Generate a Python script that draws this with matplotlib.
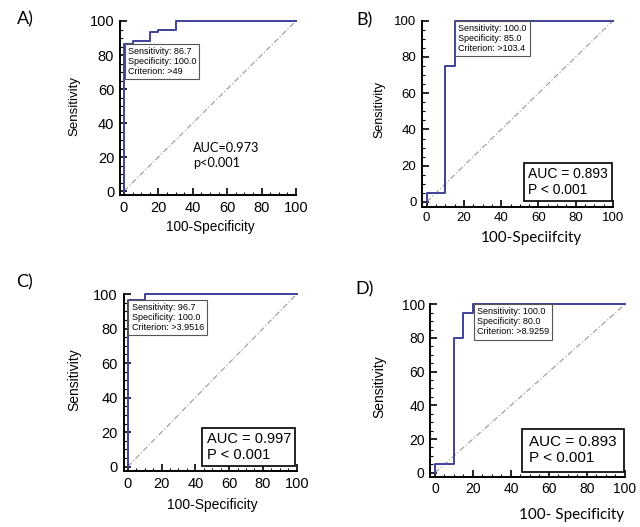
import matplotlib
matplotlib.use("Agg")
import matplotlib.pyplot as plt
from matplotlib.ticker import MultipleLocator

plt.rcParams['font.family'] = ['Liberation Sans', 'DejaVu Sans']

W, H = 640, 527

# ROC curves (100-specificity, sensitivity)
fpr_a = [0, 0, 5, 5, 15, 15, 20, 20, 30, 30, 100]
tpr_a = [0, 86.7, 86.7, 88, 88, 93.3, 93.3, 94.7, 94.7, 100, 100]
fpr_b = [0, 0, 10, 10, 15, 15, 100]
tpr_b = [0, 5, 5, 75, 75, 100, 100]
fpr_c = [0, 0, 10, 10, 100]
tpr_c = [0, 96.7, 96.7, 100, 100]
fpr_d = [0, 0, 10, 10, 15, 15, 20, 20, 100]
tpr_d = [0, 5, 5, 80, 80, 95, 95, 100, 100]

# optimal cut-off point and its labels
cut_a = (0, 86.7)
cut_b = (15, 100)
cut_c = (0, 96.7)
cut_d = (20, 100)
info_a = ["Sensitivity: 86.7", "Specificity: 100.0", "Criterion: >49"]
info_b = ["Sensitivity: 100.0", "Specificity: 85.0", "Criterion: >103.4"]
info_c = ["Sensitivity: 96.7", "Specificity: 100.0", "Criterion: >3.9516"]
info_d = ["Sensitivity: 100.0", "Specificity: 80.0", "Criterion: >8.9259"]

auc_a = "AUC=0.973\np<0.001"
auc_b = "AUC = 0.893\nP < 0.001"
auc_c = "AUC = 0.997\nP < 0.001"
auc_d = "AUC = 0.893\nP < 0.001"

xlabels = ["100-Specificity", "100-Speciifcity", "100-Specificity", "100- Specificity"]

line_col = '#40409a'
calibri = ['Lato', 'DejaVu Sans']

fig = plt.figure(figsize=(6.4, 5.27), dpi=100)


def px(x, y):
    return x / W, 1 - y / H


def make_axes(left, top, right, bottom, tick_fs):
    ax = fig.add_axes([left / W, 1 - bottom / H, (right - left) / W, (bottom - top) / H])
    ax.set_xlim(-2.5, 100)
    ax.set_ylim(-2.5, 100)
    for s in ['top', 'right']:
        ax.spines[s].set_visible(False)
    for s in ['left', 'bottom']:
        ax.spines[s].set_linewidth(1.4)
    ax.xaxis.set_major_locator(MultipleLocator(20))
    ax.yaxis.set_major_locator(MultipleLocator(20))
    ax.xaxis.set_minor_locator(MultipleLocator(5))
    ax.yaxis.set_minor_locator(MultipleLocator(5))
    ax.tick_params(which='major', direction='in', length=5, width=1.2, labelsize=tick_fs, pad=4)
    ax.tick_params(which='minor', direction='in', length=2.5, width=0.8)
    ax.set_facecolor('none')
    return ax


def draw_panel(ax, fpr, tpr, cut, info, auc, auc_box, auc_font, auc_fs, auc_xy=None, auc_pad=0.3):
    ax.plot([0, 100], [0, 100], color='#999999', lw=0.8, dashes=(5, 2, 1, 2), clip_on=False)
    ax.plot(fpr, tpr, color=line_col, lw=1.4, clip_on=False, zorder=3)
    ax.annotate("\n".join(info), xy=cut, xytext=(2.8, -2.2), textcoords='offset points',
                ha='left', va='top', fontsize=6.5, linespacing=1.15, zorder=4,
                bbox=dict(boxstyle='square,pad=0.35', fc='white', ec='#555555', lw=0.8))
    if auc_box:
        off = auc_pad * auc_fs + 1
        ax.annotate(auc, xy=(100, 0), xytext=(-off, off - 0.5), textcoords='offset points',
                    ha='right', va='bottom', multialignment='left', fontsize=auc_fs,
                    family=auc_font, linespacing=1.15,
                    bbox=dict(boxstyle='square,pad=%.2f' % auc_pad, fc='white', ec='black', lw=1.2))
    else:
        ax.text(auc_xy[0], auc_xy[1], auc, ha='left', va='center', fontsize=auc_fs,
                family=auc_font, linespacing=1.35)


# A)
ax_a = make_axes(119.7, 21, 296, 195.3, 10.5)
draw_panel(ax_a, fpr_a, tpr_a, cut_a, info_a, auc_a, False, calibri, 9.2, auc_xy=(40, 21))
# B)
ax_b = make_axes(422, 20.7, 613, 206.5, 9.5)
draw_panel(ax_b, fpr_b, tpr_b, cut_b, info_b, auc_b, True, ['Liberation Sans'], 10)
# C)
ax_c = make_axes(123.5, 294, 296.7, 471, 10.5)
draw_panel(ax_c, fpr_c, tpr_c, cut_c, info_c, auc_c, True, ['Liberation Sans'], 10.5)
# D)
ax_d = make_axes(430.2, 304.3, 625, 476.9, 10)
draw_panel(ax_d, fpr_d, tpr_d, cut_d, info_d, auc_d, True, ['Liberation Sans'], 11, auc_pad=0.45)

axes = [ax_a, ax_b, ax_c, ax_d]
xlab_pos = [(210, 227), (531, 238), (212, 505), (572, 515)]
xlab_font = [['Liberation Sans'], calibri, ['Liberation Sans'], calibri]
xlab_fs = [9.8, 11, 10, 11]
ylab_pos = [(74, 106), (379, 109), (74, 380), (379, 387)]
ylab_fs = [9.5, 9, 10, 10]
letters = ["A)", "B)", "C)", "D)"]
letter_pos = [(17, 19), (356, 20), (16, 282), (355, 289)]

for i, ax in enumerate(axes):
    ax.set_xlabel(xlabels[i], fontsize=xlab_fs[i], family=xlab_font[i], va='center')
    ax.xaxis.set_label_coords(*px(*xlab_pos[i]), transform=fig.transFigure)
    ax.set_ylabel("Sensitivity", fontsize=ylab_fs[i], va='center')
    ax.yaxis.set_label_coords(*px(*ylab_pos[i]), transform=fig.transFigure)
    fig.text(*px(*letter_pos[i]), letters[i], fontsize=13, family=calibri, ha='left', va='center')

fig.savefig("out.png", dpi=100)
